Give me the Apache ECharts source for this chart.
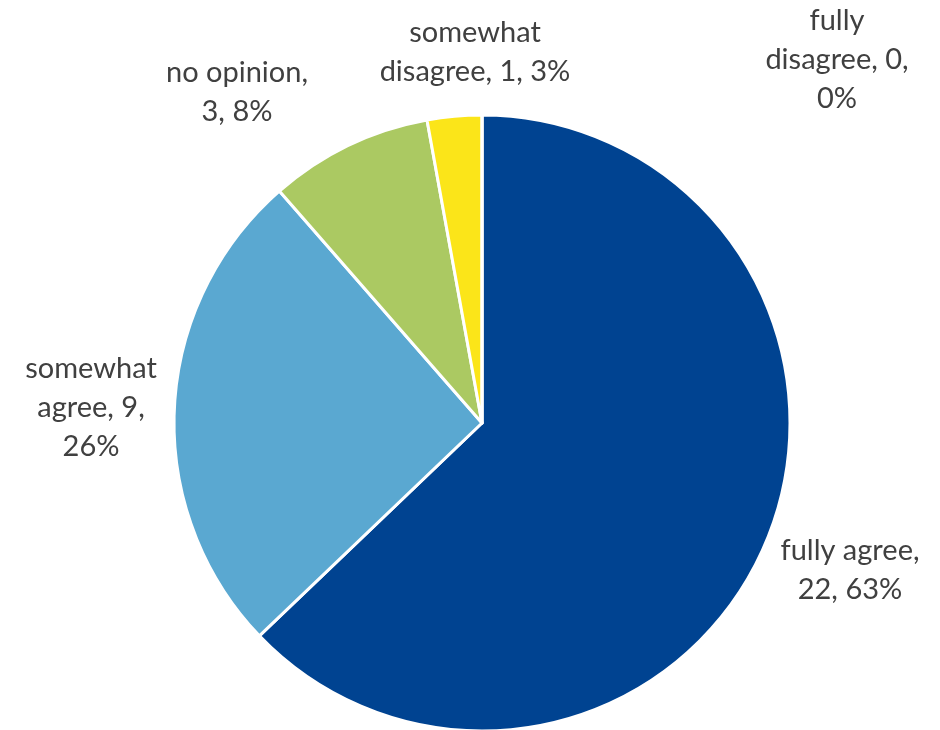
<!DOCTYPE html>
<html><head><meta charset="utf-8">
<script src="https://cdn.jsdelivr.net/npm/echarts@6/dist/echarts.min.js"></script>
<style>html,body{margin:0;padding:0;background:#fff}#c{width:940px;height:730px}</style>
</head><body><div id="c"></div>
<script>
const categories = ['fully agree', 'somewhat agree', 'no opinion', 'somewhat disagree', 'fully disagree'];
const values = [22, 9, 3, 1, 0];
const labelTexts = ['fully agree,\n22, 63%', 'somewhat\nagree, 9,\n26%', 'no opinion,\n3, 8%', 'somewhat\ndisagree, 1, 3%', 'fully\ndisagree, 0,\n0%'];
const colors = ['#004391', '#5AA8D1', '#ABC962', '#FBE519', '#7F7F7F'];
const labelPos = [[850, 570], [91, 408], [237, 92], [475, 52], [837, 60]];

const chart = echarts.init(document.getElementById('c'));
chart.setOption({
  animation: false,
  series: [{
    type: 'pie',
    center: [482, 423],
    radius: [0, 308],
    startAngle: 90,
    clockwise: true,
    avoidLabelOverlap: false,
    data: categories.map((c, i) => ({ name: c, value: values[i], itemStyle: { color: colors[i] } })),
    itemStyle: { borderColor: '#fff', borderWidth: 3 },
    label: {
      show: true,
      formatter: p => labelTexts[p.dataIndex],
      color: '#404040',
      fontFamily: 'Lato',
      fontSize: 29,
      lineHeight: 39,
      align: 'center'
    },
    labelLine: { show: false },
    labelLayout: p => ({ x: labelPos[p.dataIndex][0], y: labelPos[p.dataIndex][1], align: 'center', verticalAlign: 'middle' })
  }]
});
</script></body></html>
